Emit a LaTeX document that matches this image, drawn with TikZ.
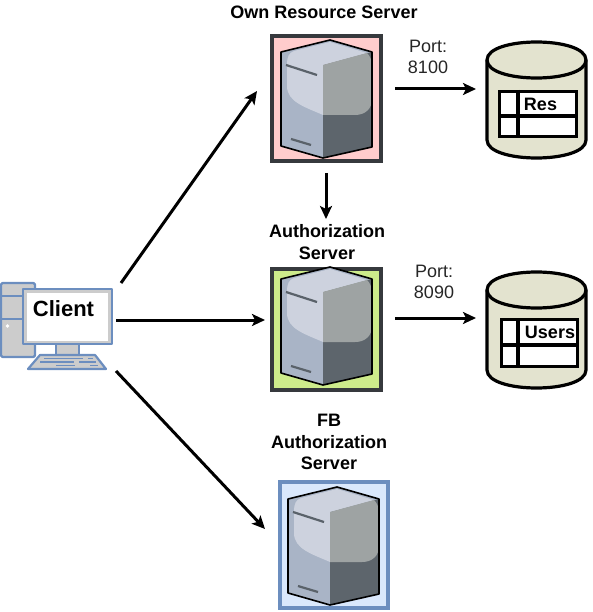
\documentclass[tikz,border=0pt]{standalone}
\usepackage{fontspec}
\setmainfont{Liberation Sans}
\usetikzlibrary{arrows.meta}
\definecolor{boxgrey}{HTML}{36393D}
\definecolor{pinkfill}{HTML}{FFCCCC}
\definecolor{greenfill}{HTML}{CDEB8B}
\definecolor{bluefill}{HTML}{DAE8FC}
\definecolor{bluestroke}{HTML}{6C8EBF}
\definecolor{srvlight}{HTML}{CDD2DE}
\definecolor{srvside}{HTML}{A9B4C6}
\definecolor{srvdark}{HTML}{5D656C}
\definecolor{srvmid}{HTML}{9EA3A3}
\definecolor{srvline}{HTML}{5A626A}
\definecolor{dbfill}{HTML}{E3E3CF}
\definecolor{pcgrey}{HTML}{CCCCCC}
\tikzset{
  x=1pt,y=-1pt,
  conn/.style={line width=3pt,-{Stealth[length=13pt,width=12pt,inset=3pt]}},
  srvbox/.style={rectangle,line width=3.8pt,minimum width=109.2pt,minimum height=125.2pt,inner sep=0pt,outer sep=0pt},
  lab/.style={font=\fontsize{18}{21.5}\selectfont\bfseries,align=center,inner sep=0pt},
  portlab/.style={font=\fontsize{18}{21.5}\selectfont,align=center,inner sep=0pt,text=black!85},
  celltext/.style={font=\fontsize{18}{20}\selectfont\bfseries,inner sep=0pt},
  dbline/.style={line width=3.2pt},
  pcline/.style={draw=bluestroke,line width=2.2pt,line join=round},
  serverpic/.pic={
    % coordinates relative to the box's upper left corner
    \fill[srvside] (60,6)--(11,18)--(11,112)--(53,124)--(53,31)--(102,18)--cycle;
    \fill[srvdark] (53,31)--(102,18)--(102,113)--(53,124)--cycle;
    \fill[srvlight] (17,31) .. controls (17,22) and (19,19) .. (24,17) -- (60,8) -- (97,19) -- (53,31) -- (53,81) .. controls (35,73) and (17,68) .. (17,52) -- cycle;
    \fill[srvmid] (53,31) -- (97,19) .. controls (100,22) and (102,26) .. (102,32) -- (102,65) .. controls (102,75) and (95,81) .. (85,81) -- (53,81) -- cycle;
    \draw[line width=1.6pt,line join=round] (60,6)--(11,18)--(11,112)--(53,124)--(102,113)--(102,18)--cycle;
    \draw[srvline,line width=2.2pt] (16,31)--(47,41);
    \draw[srvline,line width=2.2pt] (21,105)--(41,111);
  },
  dbpic/.pic={
    \draw[dbline,fill=dbfill] (0,18) .. controls (0,-6) and (99,-6) .. (99,18) -- (99,98) .. controls (99,122) and (0,122) .. (0,98) -- cycle;
    \draw[dbline] (0,18) .. controls (0,42) and (99,42) .. (99,18);
  }
}
\begin{document}
\begin{tikzpicture}
\useasboundingbox (0,0) rectangle (593,612);

% server boxes
\node[srvbox,draw=boxgrey,fill=pinkfill,anchor=north west] (own) at (271.9,35.9) {};
\pic at (270,34) {serverpic};
\node[srvbox,draw=boxgrey,fill=greenfill,anchor=north west,minimum height=121.2pt] (auth) at (271.9,268.9) {};
\pic at (270,261) {serverpic};
\node[srvbox,draw=bluestroke,fill=bluefill,anchor=north west,minimum width=108.2pt,minimum height=126.2pt] (fb) at (279.9,481.9) {};
\pic at (277,481) {serverpic};

% server titles
\node[lab] (ownlab) at (324,12) {Own Resource Server};
\node[lab] (authlab) at (327,242) {Authorization\\Server};
\node[lab] (fblab) at (329,442) {FB\\Authorization\\Server};

% client computer
\draw[pcline,fill=pcgrey,rounded corners=1.5pt] (1,283) rectangle (35,357);
\draw[pcline] (1,296)--(23,296);
\draw[pcline] (1,319)--(23,319);
\fill[white] (7.5,326) circle (1.8);
\draw[pcline,fill=pcgrey] (56,344) rectangle (79,355);
\draw[pcline,fill=pcgrey] (40,355)--(95,355)--(106,369)--(28,369)--cycle;
\draw[bluestroke,line width=1.5pt] (44,358.5)--(83,358.5) (88,358.5)--(93,358.5)
  (40,362)--(74,362) (79,362)--(96,362) (56,365.5)--(75,365.5) (90,365.5)--(98,365.5);
\draw[pcline,fill=pcgrey] (23,289) rectangle (112,344);
\node[fill=white,minimum width=81pt,minimum height=48pt,inner sep=0pt] (client) at (67.5,316.5) {};
\node[inner sep=0pt,font=\fontsize{22}{26}\selectfont\bfseries] (clientlab) at (63.5,309) {Client};

% databases
\pic at (487,42) {dbpic};
\pic at (487,272) {dbpic};
\node[dbline,draw,fill=white,minimum width=76.8pt,minimum height=44.8pt,inner sep=0pt,anchor=north west] (restab) at (498,90) {};
\draw[dbline] (518,90)--(518,138) (498,116)--(578,116);
\node[celltext] (reslab) at (540.5,104) {Res};
\node[dbline,draw,fill=white,minimum width=75.8pt,minimum height=46.8pt,inner sep=0pt,anchor=north west] (usertab) at (500,318) {};
\draw[dbline] (518,318)--(518,368) (500,345)--(579,345);
\node[celltext] (userlab) at (550,332) {Users};

% port labels
\node[portlab] (port1) at (428,57) {Port:\\8100};
\node[portlab] (port2) at (434,282) {Port:\\8090};

% connector ends
\coordinate (c1s) at (121,283); \coordinate (c1e) at (257,91);
\coordinate (c2s) at (116,320); \coordinate (c2e) at (265,320);
\coordinate (c3s) at (116,371); \coordinate (c3e) at (265,529);
\coordinate (o1s) at (326,173); \coordinate (o1e) at (326,219);
\coordinate (p1s) at (395,89);  \coordinate (p1e) at (476,89);
\coordinate (p2s) at (395,318); \coordinate (p2e) at (476,318);
\draw[conn] (c1s)--(c1e);
\draw[conn] (c2s)--(c2e);
\draw[conn] (c3s)--(c3e);
\draw[conn] (o1s)--(o1e);
\draw[conn] (p1s)--(p1e);
\draw[conn] (p2s)--(p2e);
\end{tikzpicture}
\end{document}
